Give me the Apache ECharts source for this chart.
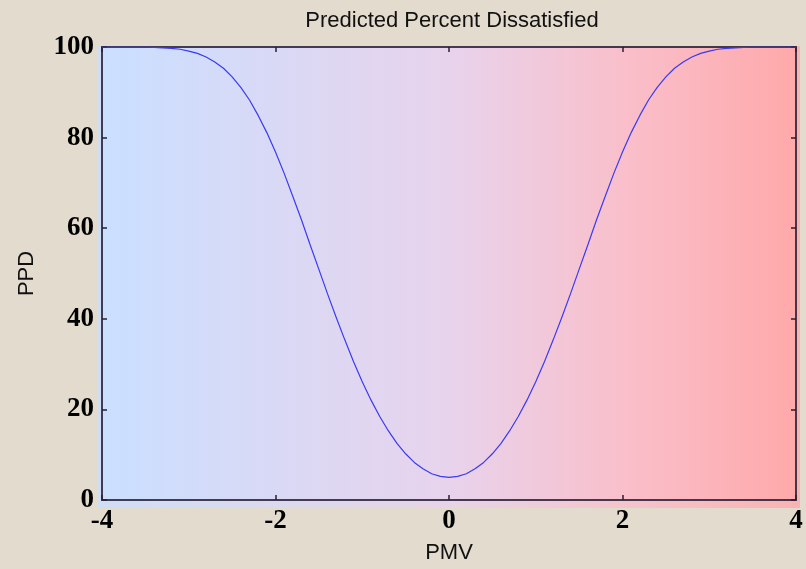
<!DOCTYPE html>
<html>
<head>
<meta charset="utf-8">
<script src="https://cdn.jsdelivr.net/npm/echarts@6/dist/echarts.min.js"></script>
<style>
html,body{margin:0;padding:0;background:#e2dbce;}
#c{width:806px;height:569px;}
</style>
</head>
<body>
<div id="c"></div>
<script>
var chartTitle = 'Predicted Percent Dissatisfied';
var xName = 'PMV';
var yName = 'PPD';
var pmv = [-4.0,-3.9,-3.8,-3.7,-3.6,-3.5,-3.4,-3.3,-3.2,-3.1,-3.0,-2.9,-2.8,-2.7,-2.6,-2.5,-2.4,-2.3,-2.2,-2.1,
  -2.0,-1.9,-1.8,-1.7,-1.6,-1.5,-1.4,-1.3,-1.2,-1.1,-1.0,-0.9,-0.8,-0.7,-0.6,-0.5,-0.4,-0.3,-0.2,-0.1,
  0.0,0.1,0.2,0.3,0.4,0.5,0.6,0.7,0.8,0.9,1.0,1.1,1.2,1.3,1.4,1.5,1.6,1.7,1.8,1.9,
  2.0,2.1,2.2,2.3,2.4,2.5,2.6,2.7,2.8,2.9,3.0,3.1,3.2,3.3,3.4,3.5,3.6,3.7,3.8,3.9,4.0];
var ppd = [100,100,100,100,100,100,99.9,99.8,99.7,99.5,99.1,98.6,97.8,96.7,95.3,93.4,91.1,88.3,84.9,81.1,
  76.8,72.1,67.0,61.8,56.3,50.9,45.5,40.3,35.3,30.5,26.1,22.1,18.5,15.3,12.5,10.2,8.3,6.9,5.8,5.2,
  5.0,5.2,5.8,6.9,8.3,10.2,12.5,15.3,18.5,22.1,26.1,30.5,35.3,40.3,45.5,50.9,56.3,61.8,67.0,72.1,
  76.8,81.1,84.9,88.3,91.1,93.4,95.3,96.7,97.8,98.6,99.1,99.5,99.7,99.8,99.9,100,100,100,100,100,100];

var grad = function(){
  return new echarts.graphic.LinearGradient(0,0,1,0,[
    {offset:0,color:'#cadfff'},
    {offset:0.5,color:'#e8d3ec'},
    {offset:0.75,color:'#f9bfcb'},
    {offset:1,color:'#ffa9aa'}
  ]);
};
var tickLabel = {fontFamily:'Liberation Serif, Times New Roman, serif',fontWeight:'bold',fontSize:27,color:'#000'};
var nameStyle = {fontFamily:'Liberation Sans, Arial, sans-serif',fontSize:22,color:'#111'};
var tick = {show:true,inside:true,length:5,lineStyle:{color:'#2a2030',width:1.5}};

var chart = echarts.init(document.getElementById('c'), null, {renderer:'canvas'});
chart.setOption({
  backgroundColor:'#e2dbce',
  animation:false,
  title:{text:chartTitle,left:447,top:5,textAlign:'center',
    textStyle:{fontFamily:'Liberation Sans, Arial, sans-serif',fontSize:22,fontWeight:'normal',color:'#111'}},
  graphic:[{type:'rect',z:-10,shape:{x:97,y:46,width:703,height:462},style:{fill:grad(),opacity:0.8}}],
  grid:{left:102,right:10,top:47,bottom:63,show:true,backgroundColor:grad(),
    borderColor:'rgba(40,30,55,0.85)',borderWidth:2},
  xAxis:[{type:'value',min:-4,max:4,interval:2,position:'bottom',
      name:xName,nameLocation:'middle',nameGap:42,nameTextStyle:nameStyle,
      axisLine:{show:false,onZero:false},splitLine:{show:false},
      axisTick:tick,
      axisLabel:Object.assign({margin:8},tickLabel)},
    {type:'value',min:-4,max:4,interval:2,position:'top',
      axisLine:{show:false,onZero:false},splitLine:{show:false},axisLabel:{show:false},
      axisTick:tick}],
  yAxis:[{type:'value',min:0,max:100,interval:20,position:'left',
      name:yName,nameLocation:'middle',nameGap:64,nameTextStyle:nameStyle,
      axisLine:{show:false,onZero:false},splitLine:{show:false},
      axisTick:tick,
      axisLabel:Object.assign({margin:8},tickLabel)},
    {type:'value',min:0,max:100,interval:20,position:'right',
      axisLine:{show:false,onZero:false},splitLine:{show:false},axisLabel:{show:false},
      axisTick:tick}],
  series:[{type:'line',data:pmv.map(function(x,i){return [x,ppd[i]];}),
    showSymbol:false,symbol:'none',smooth:false,
    lineStyle:{color:'#3a3af2',width:1.2}}]
});
</script>
</body>
</html>
